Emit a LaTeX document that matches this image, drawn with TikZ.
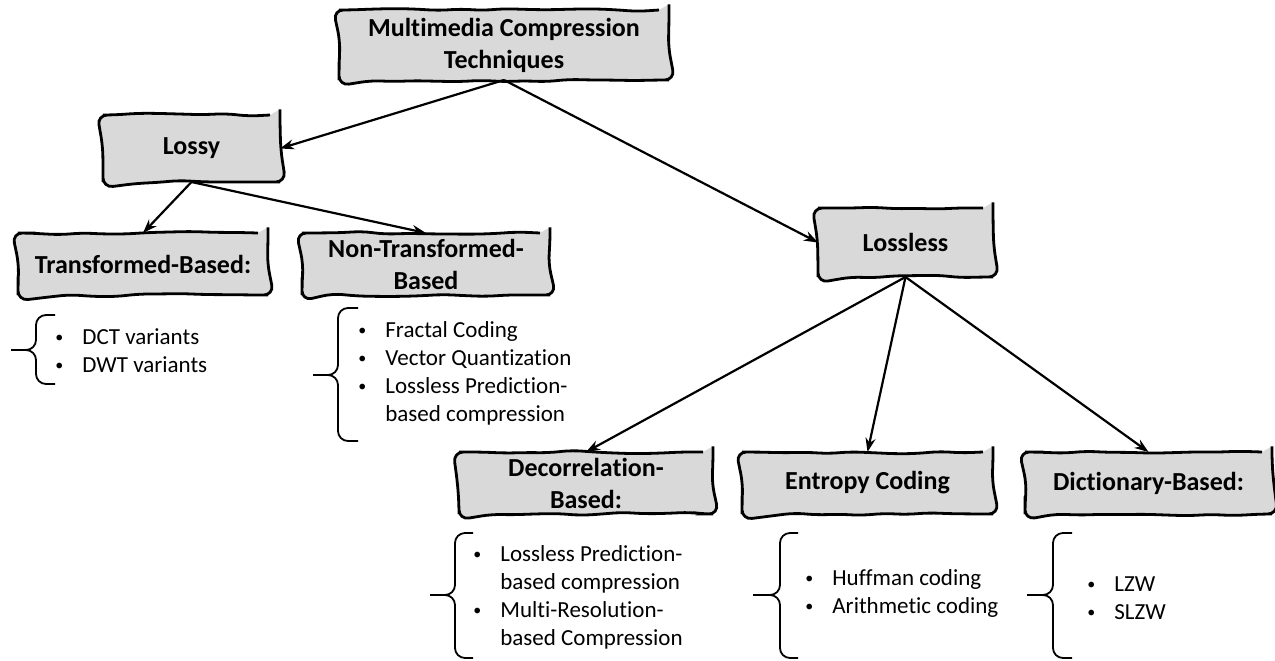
\documentclass[tikz,border=0pt]{standalone}
\usepackage{fontspec}
\setmainfont{Carlito}[Ligatures=NoCommon]
\usepackage{tikz}
\usetikzlibrary{arrows.meta,decorations.pathmorphing}

\definecolor{boxgray}{RGB}{217,217,217}

\tikzset{
  sketch/.style={draw, line width=1.4pt, fill=boxgray, decorate,
    decoration={random steps, segment length=11pt, amplitude=0.9pt},
    rounded corners=5pt, inner sep=0pt, outer sep=0pt, align=center,
    font=\fontsize{13}{16}\selectfont\bfseries},
  link/.style={-{Stealth[length=7pt,width=5pt]}, line width=1.1pt},
  items/.style={anchor=west, inner sep=0pt, align=left,
    font=\fontsize{11.5}{14}\selectfont},
  bracket/.style={line width=0.9pt, rounded corners=5pt}
}

\newcommand{\itm}{\makebox[13.5pt][l]{\raisebox{1pt}{\fontsize{8}{8}\selectfont\textbullet}}}
\newcommand{\gap}{\hspace*{13.5pt}}
% stub x, stem x, tick x, top, middle, bottom
\newcommand{\listbrace}[6]{
  \draw[bracket] (#3,#4) -- (#2,#4) -- (#2,#5) -- (#1,#5);
  \draw[bracket] (#3,#6) -- (#2,#6) -- (#2,#5) -- (#1,#5);
}

\begin{document}
\begin{tikzpicture}[x=0.5pt,y=-0.5pt]
  \pgfmathsetseed{4}
  \useasboundingbox (0,0) rectangle (1275,660);

  % boxes
  \node[sketch, minimum width=165pt, minimum height=35pt] (mmc) at (504,45) {Multimedia Compression\\Techniques};
  \node[sketch, minimum width=88.5pt, minimum height=33.5pt] (lossy) at (191.5,148.5) {Lossy};
  \node[sketch, minimum width=87.5pt, minimum height=34.5pt] (lossless) at (905.5,242.5) {Lossless};
  \node[sketch, minimum width=125pt, minimum height=31pt] (tb) at (143,264) {Transformed-Based:};
  \node[sketch, minimum width=124pt, minimum height=31pt] (ntb) at (426,264) {Non-Transformed-\\Based};
  \node[sketch, minimum width=127pt, minimum height=31pt] (decor) at (586,483) {Decorrelation-\\Based:};
  \node[sketch, minimum width=125.5pt, minimum height=31pt] (entropy) at (867.5,483) {Entropy Coding};
  \node[sketch, minimum width=123.5pt, minimum height=31pt] (dict) at (1148.5,483) {Dictionary-Based:};

  % arrows
  \draw[link] (mmc.south) -- (lossy.east);
  \draw[link] (mmc.south) -- (lossless.west);
  \draw[link] (lossy.south) -- (tb.north);
  \draw[link] (lossy.south) -- (ntb.north);
  \draw[link] (lossless.south) -- (decor.north);
  \draw[link] (lossless.south) -- (entropy.north);
  \draw[link] (lossless.south) -- (dict.north);

  % lists
  \node[items] (tblist) at (55,351) {\itm DCT variants\\\itm DWT variants};
  \node[items] (ntblist) at (358,373) {\itm Fractal Coding\\\itm Vector Quantization\\\itm Lossless Prediction-\\\gap based compression};
  \node[items] (decorlist) at (473,597) {\itm Lossless Prediction-\\\gap based compression\\\itm Multi-Resolution-\\\gap based Compression};
  \node[items] (entropylist) at (805,593) {\itm Huffman coding\\\itm Arithmetic coding};
  \node[items] (dictlist) at (1087,598) {\itm LZW\\\itm SLZW};

  % braces
  \listbrace{11}{36}{55}{315}{350}{384}
  \listbrace{313}{338}{358}{308}{375}{441}
  \listbrace{430}{455}{473}{533}{595}{658}
  \listbrace{753}{780}{798}{533}{595}{658}
  \listbrace{1027}{1053}{1072}{533}{595}{658}
\end{tikzpicture}
\end{document}
